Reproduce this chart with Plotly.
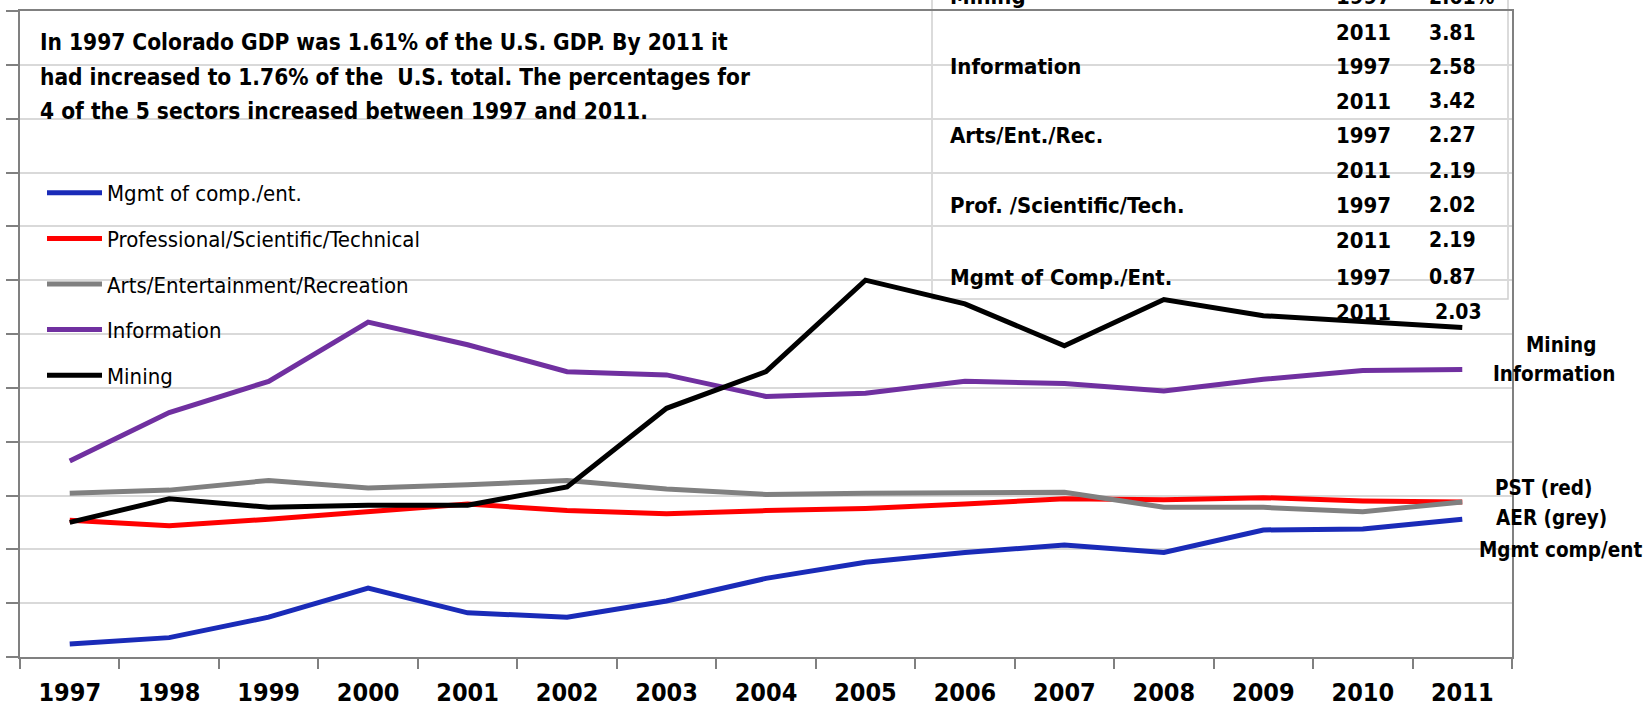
import plotly.graph_objects as go

# ---------------- data ----------------
years = ["1997", "1998", "1999", "2000", "2001", "2002", "2003", "2004",
         "2005", "2006", "2007", "2008", "2009", "2010", "2011"]

mgmt = [0.87, 0.93, 1.12, 1.39, 1.16, 1.12, 1.27, 1.48, 1.63, 1.72, 1.79, 1.72, 1.93, 1.94, 2.03]
pst = [2.02, 1.97, 2.03, 2.10, 2.17, 2.11, 2.08, 2.11, 2.13, 2.17, 2.22, 2.21, 2.23, 2.20, 2.19]
aer = [2.27, 2.30, 2.39, 2.32, 2.35, 2.39, 2.31, 2.26, 2.27, 2.27, 2.28, 2.14, 2.14, 2.10, 2.19]
info = [2.57, 3.02, 3.31, 3.86, 3.65, 3.40, 3.37, 3.17, 3.20, 3.31, 3.29, 3.22, 3.33, 3.41, 3.42]
mining = [2.00, 2.22, 2.14, 2.16, 2.16, 2.33, 3.06, 3.40, 4.25, 4.03, 3.64, 4.07, 3.92, 3.86, 3.81]

series_names = ["Mgmt of comp./ent.", "Professional/Scientific/Technical",
                "Arts/Entertainment/Recreation", "Information", "Mining"]
series_colors = ["#1a2bb8", "#ff0000", "#808080", "#7030a0", "#000000"]

note_lines = ["In 1997 Colorado GDP was 1.61% of the U.S. GDP. By 2011 it",
              "had increased to 1.76% of the  U.S. total. The percentages for",
              "4 of the 5 sectors increased between 1997 and 2011."]

table_labels = ["Mining", "", "Information", "", "Arts/Ent./Rec.", "",
                "Prof. /Scientific/Tech.", "", "Mgmt of Comp./Ent.", ""]
table_years = ["1997", "2011", "1997", "2011", "1997", "2011", "1997", "2011", "1997", "2011"]
table_values = ["2.61%", "3.81", "2.58", "3.42", "2.27", "2.19", "2.02", "2.19", "0.87", "2.03"]

end_labels = ["Mining", "Information", "PST (red)", "AER (grey)", "Mgmt comp/ent"]

# ---------------- layout helpers ----------------
W, H = 1652, 707
L, R, T, B = 20, 1512, 11, 657
FONT = "DejaVu Sans Condensed, Liberation Sans Narrow, Arial Narrow, sans-serif"


def px(xp):
    return (xp - L) / (R - L)


def py(yp):
    return (B - yp) / (B - T)


fig = go.Figure()
for i, (name, vals, col) in enumerate(zip(series_names,
                                           [mgmt, pst, aer, info, mining],
                                           series_colors)):
    fig.add_trace(go.Scatter(x=years, y=vals, name=name, mode="lines",
                             line=dict(color=col, width=5),
                             legendgroup=str(i)))

ann = []
for k, line in enumerate(note_lines):
    ann.append(dict(text="<b>" + line + "</b>", x=px(38), y=py([42, 77, 111][k]),
                    xref="paper", yref="paper", xanchor="left", yanchor="middle",
                    showarrow=False, font=dict(size=22.5, color="black", family=FONT)))

row_y = [-3, 33, 66.5, 101, 135, 171, 205, 240, 277, 312]
for k in range(len(table_years)):
    f = dict(size=22, color="black", family=FONT)
    fv = dict(size=21, color="black", family=FONT)
    if table_labels[k]:
        ann.append(dict(text="<b>" + table_labels[k] + "</b>", x=px(948), y=py(row_y[k]),
                        xref="paper", yref="paper", xanchor="left", yanchor="middle",
                        showarrow=False, font=f))
    ann.append(dict(text="<b>" + table_years[k] + "</b>", x=px(1334), y=py(row_y[k]),
                    xref="paper", yref="paper", xanchor="left", yanchor="middle",
                    showarrow=False, font=f))
    ann.append(dict(text="<b>" + table_values[k] + "</b>",
                    x=px(1433 if k == 9 else 1427), y=py(row_y[k]),
                    xref="paper", yref="paper", xanchor="left", yanchor="middle",
                    showarrow=False, font=fv))

end_pos = [(1561, 345), (1554, 374), (1543, 488), (1551, 518), (1560, 550)]
for lab, (xx, yy) in zip(end_labels, end_pos):
    ann.append(dict(text="<b>" + lab + "</b>", x=px(xx), y=py(yy),
                    xref="paper", yref="paper", xanchor="center", yanchor="middle",
                    showarrow=False, font=dict(size=20.5, color="black", family=FONT)))

fig.update_layout(
    width=W, height=H,
    margin=dict(l=L, r=W - R, t=T, b=H - B, pad=0, autoexpand=False),
    paper_bgcolor="white", plot_bgcolor="white",
    showlegend=True,
    legend=dict(x=px(42), y=py(172), xanchor="left", yanchor="top",
                bgcolor="rgba(0,0,0,0)", font=dict(size=22, color="black", family=FONT),
                traceorder="grouped", tracegroupgap=14, itemwidth=55),
    annotations=ann,
    shapes=[dict(type="rect", xref="paper", yref="paper",
                 x0=px(932), x1=px(1508), y0=py(299), y1=py(-20),
                 line=dict(color="#d0d0d0", width=1.5), fillcolor="rgba(0,0,0,0)",
                 layer="below")],
    xaxis=dict(type="category", showgrid=False, showline=True, linecolor="#808080",
               linewidth=2, mirror=True, ticks="outside", ticklen=10, tickwidth=1.5,
               tickcolor="#808080", tickson="boundaries", ticklabelstandoff=12,
               automargin=False,
               tickfont=dict(size=25, color="black", family=FONT, weight="bold"),
               range=[-0.5, 14.5]),
    yaxis=dict(range=[0.75, 6.75], tick0=0.75, dtick=0.5, showgrid=True,
               gridcolor="#d9d9d9", gridwidth=1.5, showline=True, linecolor="#808080",
               linewidth=2, mirror=True, ticks="outside", ticklen=12, tickwidth=1.5,
               tickcolor="#808080", showticklabels=False, zeroline=False,
               automargin=False),
)

fig.write_html("out.html", config={"displayModeBar": False},
               post_script="document.body.style.margin='0px';")
